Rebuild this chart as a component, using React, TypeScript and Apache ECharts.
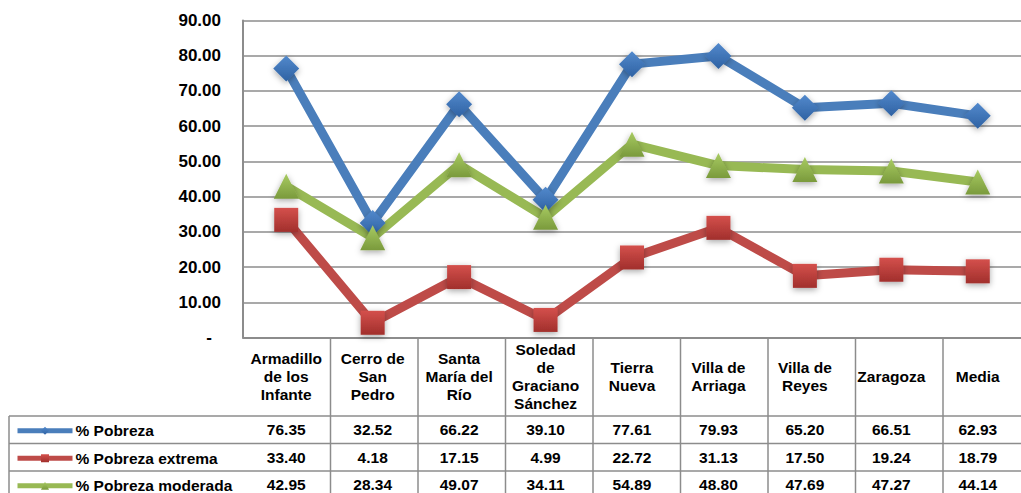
import React, { useEffect, useRef } from 'react';
import * as echarts from 'echarts';

const categories = [
  'Armadillo\nde los\nInfante',
  'Cerro de\nSan\nPedro',
  'Santa\nMaría del\nRío',
  'Soledad\nde\nGraciano\nSánchez',
  'Tierra\nNueva',
  'Villa de\nArriaga',
  'Villa de\nReyes',
  'Zaragoza',
  'Media',
];
const seriesNames = ['% Pobreza', '% Pobreza extrema', '% Pobreza moderada'];
const pobreza = [76.35, 32.52, 66.22, 39.1, 77.61, 79.93, 65.2, 66.51, 62.93];
const pobrezaExtrema = [33.4, 4.18, 17.15, 4.99, 22.72, 31.13, 17.5, 19.24, 18.79];
const pobrezaModerada = [42.95, 28.34, 49.07, 34.11, 54.89, 48.8, 47.69, 47.27, 44.14];
const yMin = 0;
const yMax = 90;
const yInterval = 10;

const FONT = '"Liberation Sans", Arial, sans-serif';
const W = 1021;
const H = 493;
const GRID_LEFT = 243;
const GRID_TOP = 20.5;
const GRID_H = 317;
const COL_W = 87.5;
const GRID_W = COL_W * categories.length;
const AXIS_Y = GRID_TOP + GRID_H;
const HEADER_H = 78.5;
const ROW_H = 27.5;
const TABLE_LEFT = 9;
const BORDER = '#8c8c8c';
const TABLE_FS = 15.5;

const seriesData = [pobreza, pobrezaExtrema, pobrezaModerada];
const lineColors = ['#4a7ebb', '#be4b48', '#98b954'];
const gradTop = ['#5289cc', '#d4504c', '#a8cb62'];
const gradBottom = ['#2f62a3', '#a12f2c', '#7a9a3c'];
const symbols = ['diamond', 'rect', 'triangle'];
const symbolSizes = [26, 24, 25];

export default function App() {
  const ref = useRef<HTMLDivElement>(null);
  useEffect(() => {
    if (!ref.current) return;
    const chart = echarts.init(ref.current, undefined, { renderer: 'svg' });

    const graphics: any[] = [];
    const line = (x1: number, y1: number, x2: number, y2: number) =>
      graphics.push({
        type: 'line',
        shape: { x1, y1, x2, y2 },
        style: { stroke: BORDER, lineWidth: 1.5 },
        silent: true,
      });
    for (let k = 1; k <= categories.length; k++) {
      const x = GRID_LEFT + k * COL_W;
      line(x, AXIS_Y, x, H);
    }
    for (let r = 0; r < seriesNames.length; r++) {
      const y = AXIS_Y + HEADER_H + r * ROW_H;
      line(TABLE_LEFT, y, W, y);
    }
    line(TABLE_LEFT, AXIS_Y + HEADER_H, TABLE_LEFT, H);

    const rowAxes = seriesData.map((vals, r) => ({
      type: 'category',
      data: categories,
      gridIndex: 0,
      position: 'bottom',
      axisLine: { show: false },
      axisTick: { show: false },
      splitLine: { show: false },
      axisLabel: {
        interval: 0,
        margin: HEADER_H + r * ROW_H + ROW_H / 2,
        verticalAlign: 'middle',
        fontFamily: FONT,
        fontSize: TABLE_FS,
        fontWeight: 'bold',
        color: '#000',
        formatter: (_v: string, i: number) => vals[i].toFixed(2),
      },
    }));

    const legends = seriesNames.map((name, r) => ({
      orient: 'horizontal',
      left: 15,
      top: AXIS_Y + HEADER_H + r * ROW_H + ROW_H / 2 - 7,
      itemWidth: 55,
      itemHeight: 10,
      itemGap: 4,
      padding: 0,
      selectedMode: false,
      lineStyle: { width: 5 },
      data: [name],
      textStyle: { fontFamily: FONT, fontSize: TABLE_FS, fontWeight: 'bold', color: '#000', padding: [0, 0, 0, -2] },
    }));

    chart.setOption({
      animation: false,
      backgroundColor: '#fff',
      textStyle: { fontFamily: FONT },
      grid: { left: GRID_LEFT, top: GRID_TOP, width: GRID_W, height: GRID_H, containLabel: false },
      legend: legends,
      xAxis: [
        {
          type: 'category',
          data: categories,
          boundaryGap: true,
          axisLine: { show: true, lineStyle: { color: BORDER, width: 2 } },
          axisTick: { show: false },
          splitLine: { show: false },
          axisLabel: {
            interval: 0,
            margin: HEADER_H / 2,
            verticalAlign: 'middle',
            align: 'center',
            lineHeight: 18,
            fontFamily: FONT,
            fontSize: TABLE_FS,
            fontWeight: 'bold',
            color: '#000',
          },
        },
        ...rowAxes,
      ],
      yAxis: {
        type: 'value',
        min: yMin,
        max: yMax,
        interval: yInterval,
        axisLine: { show: true, lineStyle: { color: BORDER, width: 2 } },
        axisTick: { show: false },
        splitLine: { show: true, lineStyle: { color: BORDER, width: 1.5 } },
        axisLabel: {
          margin: 22,
          fontFamily: FONT,
          fontSize: 17,
          fontWeight: 'bold',
          color: '#000',
          formatter: (v: number) => (v === 0 ? '{z|-}' : v.toFixed(2)),
          rich: {
            z: { fontFamily: FONT, fontSize: 17, fontWeight: 'bold', color: '#000', padding: [0, 9, 0, 0] },
          },
        },
      },
      graphic: graphics,
      series: seriesData.map((vals, i) => ({
        name: seriesNames[i],
        type: 'line',
        data: vals,
        xAxisIndex: 0,
        color: lineColors[i],
        symbol: symbols[i],
        symbolSize: symbolSizes[i],
        showAllSymbol: true,
        lineStyle: { color: lineColors[i], width: 9 },
        itemStyle: {
          color: new echarts.graphic.LinearGradient(0, 0, 0, 1, [
            { offset: 0, color: gradTop[i] },
            { offset: 1, color: gradBottom[i] },
          ]),
          borderWidth: 0,
          shadowBlur: 6,
          shadowOffsetY: 2,
          shadowColor: 'rgba(0,0,0,0.35)',
        },
        emphasis: { disabled: true },
      })),
    });
    return () => chart.dispose();
  }, []);
  return (
    <div
      ref={ref}
      style={{ position: 'absolute', left: 0, top: 0, width: W, height: H }}
    />
  );
}
